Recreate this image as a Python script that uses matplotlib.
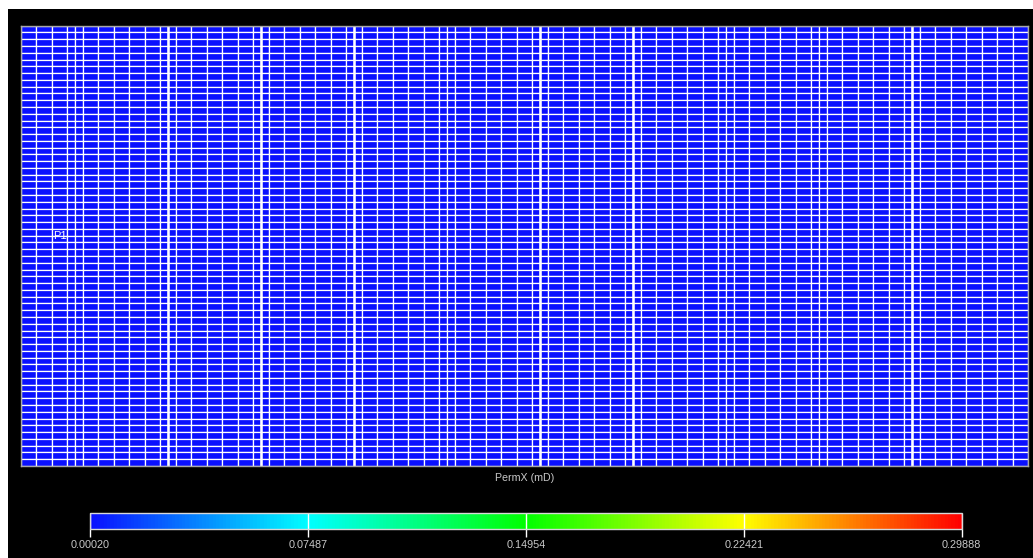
import numpy as np
import matplotlib
matplotlib.use("Agg")
import matplotlib.pyplot as plt
from matplotlib.colors import LinearSegmentedColormap
from matplotlib.patches import Rectangle

############################## DATA ##############################

# column widths of the grid (in cell units), split cells are half wide
col_widths = [1, 1, 1, 0.5, 0.5,
              1, 1, 1, 1, 1, 0.5, 0.5,
              1, 1, 1, 1, 1, 0.5, 0.5,
              1, 1, 1, 1, 1, 0.5, 0.5,
              1, 1, 1, 1, 1, 0.5, 0.5,
              1, 1, 1, 1, 1, 0.5, 0.5,
              1, 1, 1, 1, 1, 0.5, 0.5,
              1, 1, 1, 1, 1, 0.5, 0.5,
              1, 1, 1, 1, 1, 0.5, 0.5,
              1, 1, 1, 1, 1, 0.5, 0.5,
              1, 1, 1, 1, 1, 1, 1]
row_count = 65

# positions of the brighter (fault) lines, in cell units
fault_x = [9.5, 15.5, 21.5, 33.5, 39.5, 57.5]

# well label
well_name = "P1"
well_x = 2.5
well_y = 31.0

# permeability values - every cell shows the minimum colour
perm_min = 0.00020
perm_max = 0.29888
perm = np.full((row_count, len(col_widths)), perm_min)

cbar_ticks = [0.00020, 0.07487, 0.14954, 0.22421, 0.29888]
cbar_labels = ["0.00020", "0.07487", "0.14954", "0.22421", "0.29888"]
prop_label = "PermX (mD)"

############################## PLOT ##############################

W, H = 1033, 558
textColor = "#c8c8c8"
plt.rcParams["font.family"] = ["Liberation Sans", "DejaVu Sans"]

fig = plt.figure(figsize=(W / 100, H / 100), dpi=100)
fig.patch.set_facecolor("white")
# black panel, leaving thin white strips on the left and top
fig.patches.append(Rectangle((8 / W, 0), 1, (H - 9) / H, transform=fig.transFigure,
                             facecolor="black", edgecolor="none", zorder=-1))

cmap = LinearSegmentedColormap.from_list(
    "permx", ["#0a10ff", "#00ffff", "#00ff00", "#ffff00", "#ff0000"])

# grid view
ax = fig.add_axes([21 / W, (H - 466) / H, 1007.3 / W, 440.3 / H])
xEdges = np.concatenate([[0], np.cumsum(col_widths)])
yEdges = np.arange(row_count + 1)
ax.pcolormesh(xEdges, yEdges, perm, cmap=cmap, vmin=perm_min, vmax=perm_max,
              edgecolors="white", linewidth=0.9, antialiased=True)
for fx in fault_x:
  ax.axvline(fx, color="white", lw=1.8)
ax.set_xlim(xEdges[0], xEdges[-1])
ax.set_ylim(row_count, 0)
ax.set_xticks([])
ax.set_yticks([])
for s in ax.spines.values():
  s.set_color("#a8a8a8")
  s.set_linewidth(1)
ax.text(well_x, well_y, well_name, color="white", fontsize=8,
        ha="center", va="center")

fig.text(525 / W, (H - 478) / H, prop_label, color=textColor, fontsize=7.7,
         ha="center", va="center")

# colour bar
cax = fig.add_axes([90 / W, (H - 529.3) / H, 871.7 / W, 16 / H])
sm = plt.cm.ScalarMappable(cmap=cmap, norm=plt.Normalize(perm_min, perm_max))
cbar = fig.colorbar(sm, cax=cax, orientation="horizontal", ticks=cbar_ticks)
cbar.ax.set_xticklabels(cbar_labels)
cbar.ax.tick_params(direction="out", length=6, width=1, color="white",
                    labelcolor=textColor, labelsize=7.8, pad=1.5)
for t in cbar_ticks:
  cbar.ax.axvline(t, color="white", lw=1)
cbar.outline.set_edgecolor("#d8d8d8")
cbar.outline.set_linewidth(1)

fig.savefig("out.png", dpi=100, facecolor=fig.get_facecolor())
